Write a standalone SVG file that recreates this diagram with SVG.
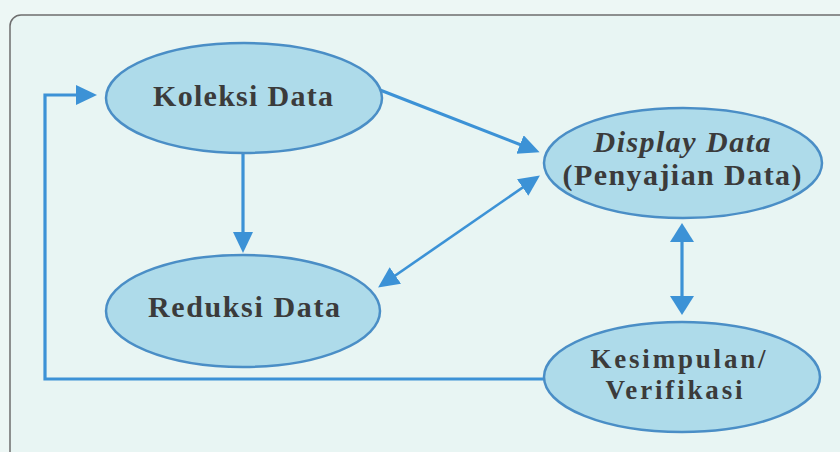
<svg xmlns="http://www.w3.org/2000/svg" width="840" height="452" viewBox="0 0 840 452">
<defs>
<style>
.node ellipse{fill:#aedbea;stroke:#4a8ec6;stroke-width:2.5}
.lbl{font-family:"Liberation Serif","Times New Roman",serif;font-weight:bold;font-size:30px;fill:#3b3b3b;text-anchor:middle}
.sm{font-size:27px}
.it{font-style:italic}
.con{fill:none;stroke:#3c92d6;stroke-width:3.2}
.thin{stroke-width:2.6}
</style>
<marker id="ah" markerUnits="userSpaceOnUse" markerWidth="22" markerHeight="22" viewBox="0 0 22 22" refX="15" refY="10" orient="auto-start-reverse">
<path d="M0,0 L21,10 L0,20 z" fill="#3c92d6"/>
</marker>
<marker id="ahw" markerUnits="userSpaceOnUse" markerWidth="22" markerHeight="26" viewBox="0 0 22 26" refX="13" refY="12" orient="auto-start-reverse">
<path d="M0,0 L19,12 L0,24 z" fill="#3c92d6"/>
</marker>
</defs>
<rect x="0" y="0" width="840" height="452" fill="#edf7f5"/>
<rect x="10" y="15" width="850" height="460" rx="11" ry="11" fill="#e8f5f3" stroke="#6e6e6e" stroke-width="1.5"/>

<g id="connectors">
<line class="con" x1="243" y1="154" x2="243" y2="247" marker-end="url(#ah)"/>
<line class="con" x1="380" y1="90" x2="534" y2="150" marker-end="url(#ah)"/>
<line class="con thin" x1="383" y1="284" x2="535" y2="179" marker-start="url(#ah)" marker-end="url(#ah)"/>
<line class="con" x1="682" y1="229" x2="682" y2="309" marker-start="url(#ahw)" marker-end="url(#ahw)"/>
<polyline class="con" points="544,379 45,379 45,95 91,95" marker-end="url(#ah)"/>
</g>

<g id="koleksi" class="node">
<ellipse cx="244" cy="98" rx="138" ry="55"/>
<text class="lbl" x="243" y="106" textLength="180" lengthAdjust="spacing">Koleksi  Data</text>
</g>

<g id="display" class="node">
<ellipse cx="683" cy="163" rx="139" ry="55"/>
<text class="lbl it" x="682" y="152" textLength="177" lengthAdjust="spacing">Display Data</text>
<text class="lbl" x="682" y="185" textLength="239" lengthAdjust="spacing">(Penyajian  Data)</text>
</g>

<g id="reduksi" class="node">
<ellipse cx="243" cy="311" rx="137" ry="56"/>
<text class="lbl" x="244" y="317" textLength="192" lengthAdjust="spacing">Reduksi  Data</text>
</g>

<g id="kesimpulan" class="node">
<ellipse cx="682" cy="377" rx="138" ry="55"/>
<text class="lbl sm" x="678" y="368" textLength="175" lengthAdjust="spacing">Kesimpulan/</text>
<text class="lbl sm" x="674" y="399" textLength="137" lengthAdjust="spacing">Verifikasi</text>
</g>
</svg>
